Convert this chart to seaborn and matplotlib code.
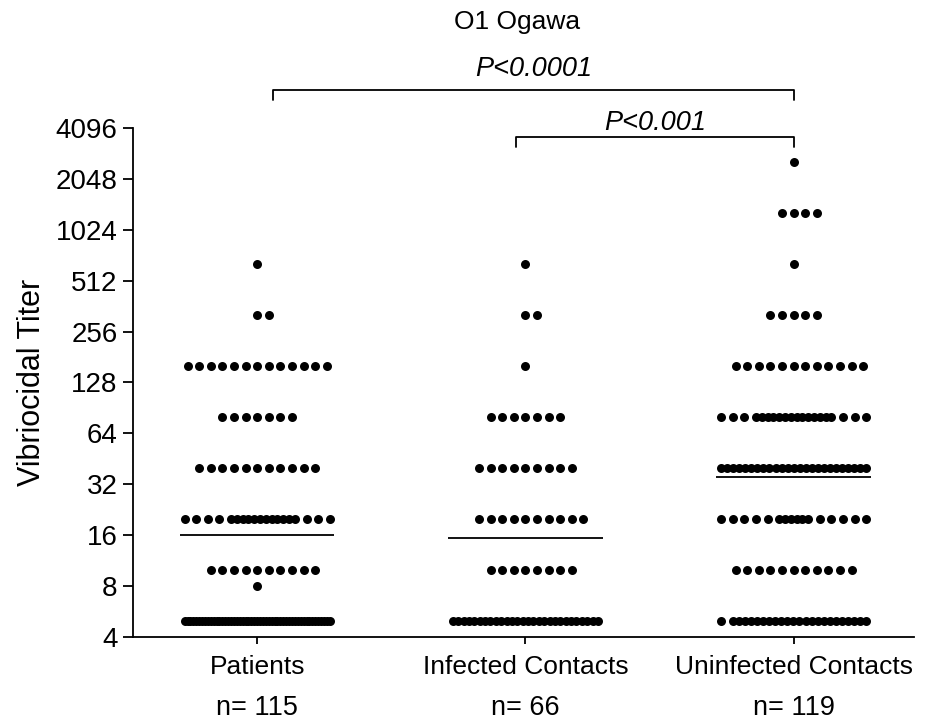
import numpy as np
import pandas as pd
import seaborn as sns
import matplotlib.pyplot as plt
from matplotlib.ticker import NullLocator

# titer levels and how many subjects sit on each level
titer_levels = [5, 8, 10, 20, 40, 80, 160, 320, 640, 1280, 2560]
patients_counts = [51, 1, 10, 19, 11, 7, 13, 2, 1, 0, 0]
infected_counts = [28, 0, 8, 10, 9, 7, 1, 2, 1, 0, 0]
uninfected_counts = [24, 0, 11, 16, 25, 20, 12, 5, 1, 4, 1]

groups = ["Patients", "Infected Contacts", "Uninfected Contacts"]
group_counts = [patients_counts, infected_counts, uninfected_counts]
n_labels = ["n= 115", "n= 66", "n= 119"]
y_ticks = [4, 8, 16, 32, 64, 128, 256, 512, 1024, 2048, 4096]


def row_offsets(k):
    # prism style column scatter: spread points, squeeze the middle when the row is too wide
    S, d, W = 11.6 / 268, 6.0 / 268, 145 / 268
    if k == 0:
        return np.array([])
    if (k - 1) * S <= W:
        offs = (np.arange(k) - (k - 1) / 2) * S
        if k % 2 == 0:
            offs += S / 2
        return offs
    if (k - 1) * d >= W:
        return np.linspace(-W / 2, W / 2, k)
    g = int(round((W - (k - 1) * d) / (S - d)))
    gl = (g + 1) // 2
    gr = g - gl
    dd = (W - g * S) / (k - 1 - g)
    gaps = [S] * gl + [dd] * (k - 1 - g) + [S] * gr
    return np.concatenate([[0], np.cumsum(gaps)]) - W / 2


rows = []
for gi, (name, counts) in enumerate(zip(groups, group_counts)):
    for val, k in zip(titer_levels, counts):
        for off in row_offsets(k):
            rows.append({"group": name, "xpos": gi + off, "titer": val})
df = pd.DataFrame(rows)

sns.set_style("ticks", {"text.color": "black", "xtick.color": "black",
                        "ytick.color": "black", "axes.labelcolor": "black",
                        "axes.edgecolor": "black"})
plt.rcParams["font.family"] = ["Liberation Sans", "DejaVu Sans"]

fig = plt.figure(figsize=(9.28, 7.21), dpi=100)
ax = fig.add_axes([0.1433, 0.1165, 0.842, 0.706])

sns.scatterplot(data=df, x="xpos", y="titer", color="black", s=42, linewidth=0,
                ax=ax, legend=False, clip_on=False, zorder=3)

# geometric mean lines
for gi, name in enumerate(groups):
    gm = np.exp(np.log(df.loc[df.group == name, "titer"]).mean())
    ax.hlines(gm, gi - 0.288, gi + 0.288, color="black", lw=1.3, zorder=2)

ax.set_yscale("log", base=2)
ax.set_ylim(4, 4096)
ax.set_yticks(y_ticks)
ax.set_yticklabels([str(t) for t in y_ticks], fontsize=20)
ax.yaxis.set_minor_locator(NullLocator())
ax.set_xlim(-0.463, 2.45)
ax.set_xticks(range(len(groups)))
ax.set_xticklabels(groups, fontsize=19)
ax.tick_params(axis="y", length=7, width=1.3, pad=4)
ax.tick_params(axis="x", length=5, width=1.3, pad=8)
ax.set_xlabel("")
ax.set_ylabel("Vibriocidal Titer", fontsize=22, labelpad=6)
for sp in ["left", "bottom"]:
    ax.spines[sp].set_linewidth(1.3)
sns.despine(ax=ax)

for gi, lab in enumerate(n_labels):
    ax.text(gi, -0.14, lab, transform=ax.get_xaxis_transform(), ha="center",
            va="center", fontsize=19.5)

# significance brackets
def bracket(x1, x2, y, y_tick, text, y_text):
    ax.plot([x1, x1, x2, x2], [y_tick, y, y, y_tick], color="black", lw=1.3,
            clip_on=False)
    ax.text((x1 + x2) / 2, y_text, text, ha="center", va="center",
            fontsize=19.5, style="italic")

bracket(0.06, 2.0, 2 ** 12.75, 2 ** 12.55, "P<0.0001", 2 ** 13.16)
bracket(0.966, 2.0, 2 ** 11.82, 2 ** 11.62, "P<0.001", 2 ** 12.1)

fig.text(0.557, 0.969, "O1 Ogawa", ha="center", va="center", fontsize=19)

fig.savefig("out.png", dpi=100)
